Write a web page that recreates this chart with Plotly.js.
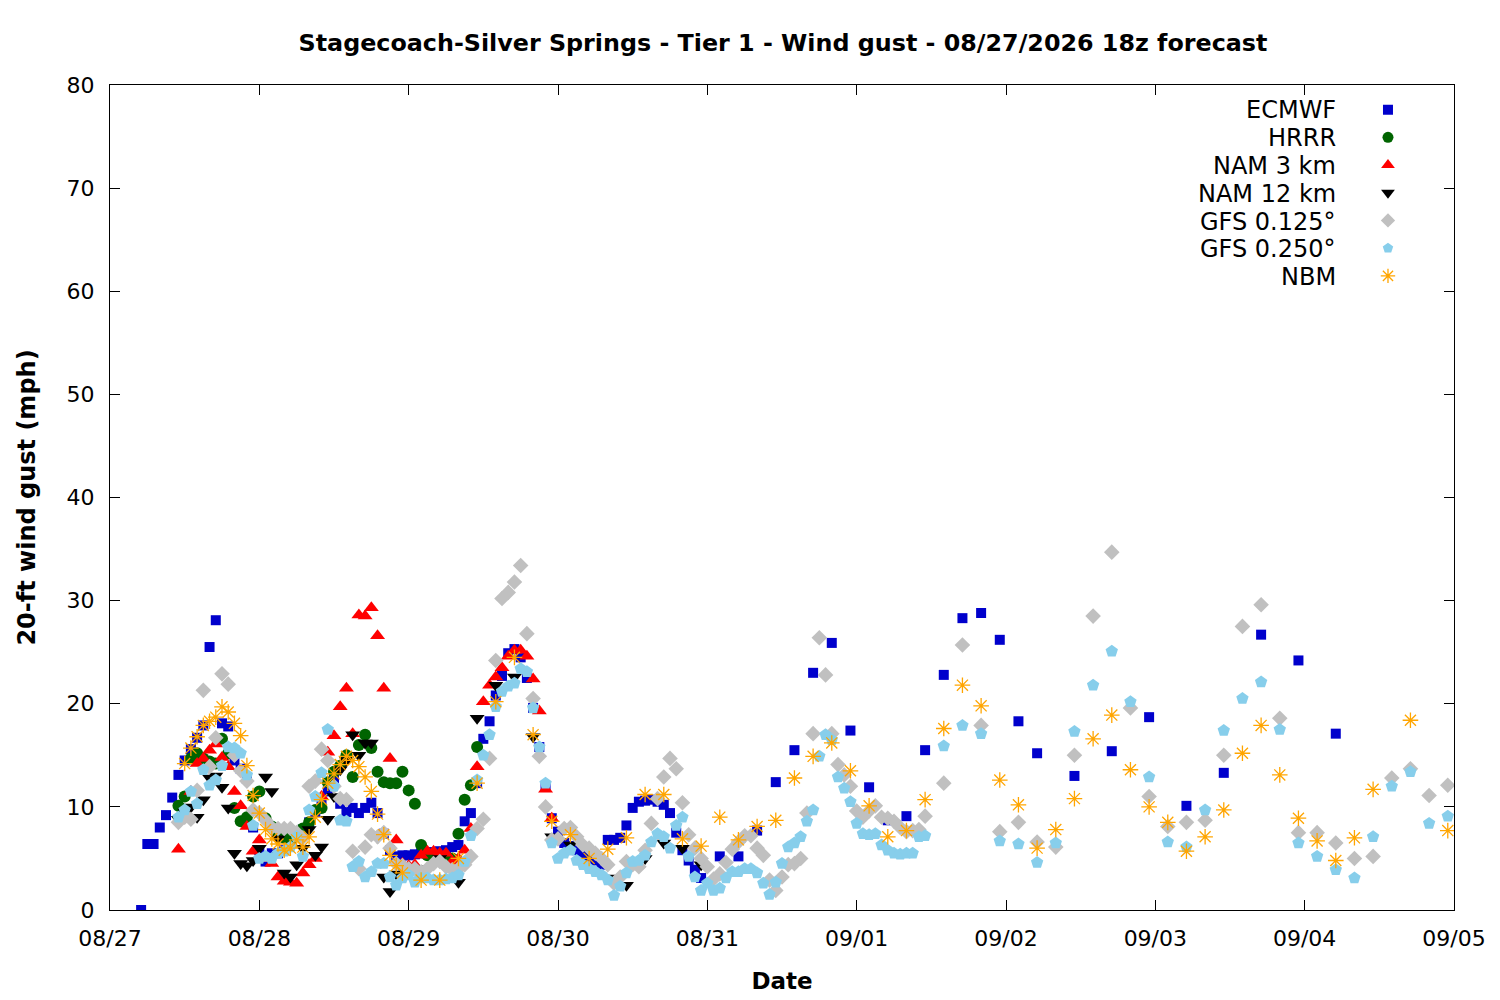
<!DOCTYPE html>
<html>
<head>
<meta charset="utf-8">
<script src="https://cdn.plot.ly/plotly-3.0.1.min.js"></script>
<style>
  html, body { margin: 0; padding: 0; background: #fff; }
  #chart { width: 1500px; height: 1000px; }
</style>
</head>
<body>
<div id="chart"></div>
<script>
// all times are hours after 08/27 00:00 (local)

// ECMWF: hourly, then 3-hourly, then 6-hourly
var ecmwfVals = [
  0, 6.4, 6.4, 8.0, 9.2, 10.9, 13.1, 14.5, 15.6, 16.7,
  17.9, 25.5, 28.1, 18.1, 17.8, 14.5, 13.7, 12.7, 8.0, 5.8,
  4.7, 5.5, 5.5, 5.8, 6.5, 7.3, 7.8, 8.5, 9.5, 10.3,
  11.5, 12.8, 10.3, 9.5, 9.9, 9.4, 9.9, 10.4, 9.4, 7.4,
  5.8, 5.2, 5.3, 5.3, 5.4, 5.5, 5.6, 5.6, 5.7, 5.8,
  6.1, 6.3, 8.6, 9.4, 12.3, 16.6, 18.3, 20.8, 22.7, 24.9,
  25.3, 24.5, 22.5, 19.6, 15.8, 12.0, 8.9, 7.6, 6.5, 6.2,
  5.8, 5.5, 5.2, 4.8, 4.4, 6.8, 6.8, 7.0, 8.2, 9.9,
  10.5, 10.6, 10.7, 10.5, 10.2, 9.4, 7.5, 5.8, 4.8, 3.9,
  3.1,
  5.2, 5.2, 7.7, 12.4, 15.5, 23.0, 25.9, 17.4, 11.9, 8.7,
  9.1, 15.5, 22.8, 28.3, 28.8, 26.2, 18.3, 15.2,
  13.0, 15.4, 18.7, 10.1, 13.3, 26.7, 24.2, 17.1
];

var hrrrVals = [
  10.1, 11.0, 14.7, 15.2, 14.7, 14.4, 14.2, 16.6, 15.2, 9.9,
  8.6, 9.0, 11.0, 11.5, 8.9, 8.1, 7.5, 7.0, 6.8, 7.5,
  7.9, 8.5, 9.7, 9.9, 12.4, 13.4, 14.0, 15.0, 12.9, 16.0,
  17.0, 15.7, 13.4, 12.4, 12.3, 12.3, 13.4, 11.6, 10.3, 6.3,
  5.3, 5.0, 4.8, 5.0, 5.0, 7.4, 10.7, 12.1, 15.8
];

var nam3Vals = [
  5.9, 8.9, 11.5, 14.2, 14.7, 15.5, 16.1, 14.8, 13.9, 11.5,
  10.1, 8.1, 5.7, 6.8, 5.0, 4.5, 3.2, 2.8, 2.7, 2.6,
  3.6, 4.4, 5.0, 11.0, 15.3, 16.9, 19.7, 21.5, 17.1, 28.6,
  28.5, 29.3, 26.6, 21.5, 14.7, 6.8, 4.5, 4.3, 4.4, 5.3,
  5.7, 5.7, 5.5, 5.5, 4.7, 5.0, 5.8, 7.9, 13.9, 20.2,
  21.8, 22.6, 23.5, 24.6, 25.2, 25.2, 24.6, 22.4, 19.3, 11.7, 8.9
];

// NAM 12 km: hourly, then 3-hourly
var nam12Vals = [
  8.8, 9.5, 10.0, 9.0, 10.7, 12.8, 13.0, 11.9, 9.9, 5.5,
  4.5, 4.3, 4.8, 6.0, 12.9, 11.5, 6.9, 3.6, 3.2, 4.4,
  6.0, 7.8, 5.3, 6.1, 8.8, 11.0, 13.6, 14.5, 17.0, 15.0,
  16.2, 16.2, 7.0, 3.2, 1.8, 3.5, 4.0,
  4.0, 5.0, 2.7, 18.6, 21.8, 22.6, 16.8, 7.1, 6.3, 5.8,
  3.1, 2.4, 5.0, 6.5, 6.0, 4.4
];

// GFS: hourly to 08/31 11h, then 3-hourly
var gfs125Vals = [
  8.5, 9.0, 8.8, 11.6, 21.3, 13.9, 16.7, 22.9, 21.9, 15.0,
  13.5, 12.5, 9.7, 9.4, 8.7, 8.0, 7.9, 7.9, 7.9, 7.5,
  7.0, 12.0, 12.5, 15.6, 14.5, 12.0, 10.8, 10.7, 5.7, 4.0,
  6.1, 7.3, 7.1, 7.5, 6.0, 4.5, 4.3, 4.0, 4.0, 3.7,
  4.0, 4.5, 4.7, 4.2, 3.9, 4.0, 4.4, 5.2, 7.9, 8.8,
  14.7, 24.2, 30.2, 30.8, 31.8, 33.4, 26.8, 20.5, 14.9, 10.0,
  6.8, 6.9, 7.9, 8.0, 7.1, 6.3, 6.0, 5.5, 5.0, 4.4,
  2.6, 3.2, 4.7, 4.4, 4.2, 5.8, 8.4, 10.8, 12.9, 14.7,
  13.7, 10.4, 7.3, 6.0, 5.0, 4.2, 3.0, 3.5, 4.6, 5.9,
  6.6, 7.2, 7.2, 6.0, 5.3, 2.9, 1.9, 3.2, 4.4, 4.5,
  5.0, 9.4, 17.1, 26.4, 22.8, 17.1, 14.1, 13.1, 12.0, 9.6,
  9.0, 9.6, 10.1, 9.0, 8.9, 8.6, 8.0, 7.6, 7.7, 7.8, 9.1,
  12.3, 25.7, 17.9, 7.6, 8.5, 6.6, 6.1, 15.0, 28.5, 34.7,
  19.6, 11.0, 8.1, 8.5, 8.7, 15.0, 27.5, 29.6, 18.6, 7.5,
  7.5, 6.5, 5.0, 5.2, 12.8, 13.7, 11.1, 12.1
];

var gfs250Vals = [
  9.0, 9.7, 11.5, 10.3, 13.6, 12.1, 12.6, 14.0, 15.8, 15.7,
  15.2, 13.1, 8.2, 5.0, 5.2, 5.0, 5.5, 5.7, 6.1, 7.1,
  5.2, 9.7, 11.0, 13.3, 17.5, 12.0, 8.7, 8.6, 4.2, 4.7,
  3.2, 3.7, 4.5, 4.5, 3.2, 2.4, 3.1, 3.4, 2.7, 3.1,
  3.1, 2.9, 2.9, 3.0, 3.1, 3.4, 4.7, 7.2, 12.6, 15.0,
  17.0, 19.7, 21.2, 21.7, 22.0, 23.4, 23.1, 19.6, 15.8, 12.3,
  6.5, 5.0, 5.5, 5.8, 4.8, 4.4, 4.0, 3.7, 3.4, 2.9,
  1.4, 2.3, 3.6, 4.7, 4.8, 5.3, 6.6, 7.4, 7.1, 6.0,
  8.2, 9.0, 5.2, 3.2, 1.9, 2.6, 1.9, 2.1, 3.1, 3.7,
  3.7, 4.0, 4.0, 3.6, 2.6, 1.5, 2.7, 4.5, 6.1, 6.5,
  7.1, 8.6, 9.7, 14.9, 17.0, 16.5, 12.9, 11.8, 10.5, 8.4,
  7.4, 7.3, 7.4, 6.3, 5.8, 5.5, 5.4, 5.5, 5.5, 7.1, 7.2,
  15.9, 17.9, 17.1, 6.7, 6.4, 4.6, 6.5, 17.3, 21.8, 25.1,
  20.2, 12.9, 6.6, 6.1, 9.7, 17.4, 20.5, 22.1, 17.5, 6.5,
  5.2, 3.9, 3.1, 7.1, 12.0, 13.4, 8.4, 9.1
];

// NBM: hourly, 3-hourly, then 6-hourly
var nbmVals = [
  14.2, 15.7, 16.8, 17.9, 18.3, 18.7, 19.7, 19.2, 18.1, 16.9,
  14.0, 11.1, 9.4, 7.8, 6.9, 6.4, 5.8, 6.0, 6.8, 6.1,
  7.1, 9.0, 10.7, 12.3, 13.2, 14.1, 14.9, 14.5, 13.9, 12.9,
  11.5, 9.3, 7.3, 5.3, 4.3, 3.6,
  2.9, 2.9, 5.0, 12.3, 20.2, 24.5, 17.0, 8.6, 7.3, 5.0,
  5.9, 7.0, 11.2, 11.2, 6.9, 6.2, 9.0, 6.8, 8.1, 8.7,
  12.8, 14.9, 16.2, 13.5, 10.1, 7.1, 7.7, 10.7, 17.6, 21.8,
  19.8, 12.6, 10.2, 6.0, 7.8, 10.8, 16.6, 18.9, 13.6, 10.0,
  8.5, 5.7, 7.1, 9.7, 15.2, 17.9, 13.1, 8.9, 6.7, 4.8,
  7.0, 11.7,
  18.4, 7.7
];

var seriesNames = ['ECMWF', 'HRRR', 'NAM 3 km', 'NAM 12 km', 'GFS 0.125\u00b0', 'GFS 0.250\u00b0', 'NBM'];
var dayTicks = ['08/27', '08/28', '08/29', '08/30', '08/31', '09/01', '09/02', '09/03', '09/04', '09/05'];

function hrs(start, end, step) {
  var out = [];
  for (var h = start; h <= end; h += step) out.push(h);
  return out;
}

var ecmwfHours = hrs(5, 95, 1).concat(hrs(98, 149, 3), hrs(155, 197, 6));
var hrrrHours = hrs(11, 59, 1);
var nam3Hours = hrs(11, 71, 1);
var nam12Hours = hrs(11, 47, 1).concat(hrs(50, 95, 3));
var gfsHours = hrs(11, 131, 1).concat(hrs(134, 215, 3));
var nbmHours = hrs(12, 47, 1).concat(hrs(50, 203, 3), hrs(209, 215, 6));

function toDate(h) {
  var d = new Date(Date.UTC(2026, 7, 27) + h * 3600000);
  return d.toISOString().slice(0, 16).replace('T', ' ');
}

var styles = [
  {symbol: 'square', color: '#0000cc', size: 10},
  {symbol: 'circle', color: '#006400', size: 12},
  {symbol: 'triangle-up', color: '#ff0000', size: 13},
  {symbol: 'triangle-down', color: '#000000', size: 13},
  {symbol: 'diamond', color: '#c0c0c0', size: 12},
  {symbol: 'pentagon', color: '#87ceeb', size: 13},
  {symbol: 'asterisk-open', color: '#ffa500', size: 13}
];
var legendSizes = [10, 11, 12, 12, 11, 11, 12];

var hourSets = [ecmwfHours, hrrrHours, nam3Hours, nam12Hours, gfsHours, gfsHours, nbmHours];
var valSets = [ecmwfVals, hrrrVals, nam3Vals, nam12Vals, gfs125Vals, gfs250Vals, nbmVals];

function markerFor(s, size) {
  return {
    symbol: s.symbol,
    color: s.color,
    size: size,
    line: {color: s.color, width: s.symbol === 'asterisk-open' ? 1.3 : 0}
  };
}

var data = [];
for (var i = 0; i < seriesNames.length; i++) {
  data.push({
    x: hourSets[i].map(toDate),
    y: valSets[i],
    name: seriesNames[i],
    type: 'scatter',
    mode: 'markers',
    marker: markerFor(styles[i], styles[i].size),
    showlegend: false
  });
}
// legend symbols only; the names are drawn right-aligned as annotations like gnuplot
for (var j = 0; j < seriesNames.length; j++) {
  data.push({
    x: [null], y: [null],
    name: ' ',
    type: 'scatter',
    mode: 'markers',
    marker: markerFor(styles[j], legendSizes[j]),
    showlegend: true,
    hoverinfo: 'skip'
  });
}

var annotations = seriesNames.map(function(n, k) {
  return {
    text: n,
    xref: 'paper', yref: 'paper',
    x: 0.9137, y: 0.9697 - k * 0.0338,
    xanchor: 'right', yanchor: 'middle',
    showarrow: false,
    font: {size: 24, color: '#000'}
  };
});

var tickDates = dayTicks.map(function(t, k) { return toDate(k * 24); });

var layout = {
  width: 1500,
  height: 1000,
  paper_bgcolor: '#fff',
  plot_bgcolor: '#fff',
  font: {family: 'DejaVu Sans, sans-serif', color: '#000', size: 22},
  margin: {l: 110, r: 46, t: 85, b: 90},
  title: {
    text: '<b>Stagecoach-Silver Springs - Tier 1 - Wind gust - 08/27/2026 18z forecast</b>',
    x: 0.522, xanchor: 'center', y: 0.957, yref: 'container', yanchor: 'middle',
    font: {size: 23.8}
  },
  xaxis: {
    type: 'date',
    range: [toDate(0), toDate(216)],
    tickvals: tickDates,
    ticktext: dayTicks,
    ticks: 'inside', ticklen: 10, tickcolor: '#000',
    showline: true, linecolor: '#000', linewidth: 1, mirror: 'ticks',
    showgrid: false, zeroline: false,
    ticklabelstandoff: 9,
    title: {text: '<b>Date</b>', standoff: 22, font: {size: 23}}
  },
  yaxis: {
    range: [0, 80],
    dtick: 10,
    ticks: 'inside', ticklen: 10, tickcolor: '#000',
    showline: true, linecolor: '#000', linewidth: 1, mirror: 'ticks',
    showgrid: false, zeroline: false,
    ticklabelstandoff: 10,
    title: {text: '<b>20-ft wind gust (mph)</b>', standoff: 24, font: {size: 24}}
  },
  showlegend: true,
  legend: {
    x: 0.936, xanchor: 'left',
    y: 0.993, yanchor: 'top',
    bgcolor: 'rgba(0,0,0,0)',
    font: {size: 19},
    itemwidth: 30,
    tracegroupgap: 0
  },
  annotations: annotations
};

Plotly.newPlot('chart', data, layout, {displayModeBar: false, responsive: false});
</script>
</body>
</html>
